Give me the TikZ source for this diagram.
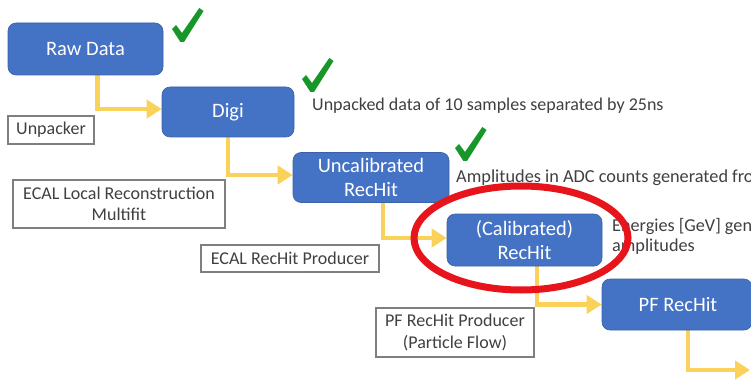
\documentclass[tikz,border=0pt]{standalone}
\usepackage{fontspec}
\setmainfont{Carlito}
\usetikzlibrary{arrows.meta,calc,backgrounds}
\definecolor{boxblue}{HTML}{4472C4}
\definecolor{flowyellow}{HTML}{FAD25A}
\definecolor{chkgreen}{HTML}{17972A}
\definecolor{ringred}{HTML}{E8141B}
\definecolor{labgray}{HTML}{404040}
\definecolor{framegray}{HTML}{7F7F7F}
\begin{document}
\begin{tikzpicture}[x=1pt,y=-1pt,
  stagebox/.style={draw=boxblue!85!black,line width=0.6pt,fill=boxblue,rounded corners=8pt,text=white,
    font=\fontsize{20.5}{23.5}\selectfont,align=center,inner sep=0pt},
  labbox/.style={draw=framegray,line width=1.2pt,fill=white,text=labgray,
    font=\fontsize{18}{21.5}\selectfont,align=center,inner sep=0pt},
  sidetext/.style={text=labgray,font=\fontsize{18}{21}\selectfont,align=left,inner sep=0pt,anchor=west},
  flow/.style={draw=flowyellow,line width=4.5pt,-{Triangle[length=15pt,width=18pt]}},
  chk/.pic={\fill[chkgreen] (0,21) -- (4,17) -- (10,25) -- (27.3,0) -- (31.5,3) -- (12,34) -- (8.4,34) -- cycle;}
]
\useasboundingbox (0,0) rectangle (751,390);

% stage boxes
\node[stagebox,minimum width=155pt,minimum height=52pt] (raw) at (85.5,49) {Raw Data};
\node[stagebox,minimum width=132pt,minimum height=50pt] (digi) at (228,112) {Digi};
\node[stagebox,minimum width=156pt,minimum height=50pt] (uncal) at (371,177.5) {Uncalibrated\\RecHit};
\node[stagebox,minimum width=155pt,minimum height=52pt] (cal) at (524.5,240) {(Calibrated)\\RecHit};
\node[stagebox,minimum width=150pt,minimum height=51pt] (pf) at (677,304.5) {};
\node[text=white,font=\fontsize{20.5}{23.5}\selectfont,inner sep=0pt] (pftext) at (678,304.5) {PF RecHit};
\coordinate (pfout) at (750,370);

% connectors (behind the boxes)
\begin{scope}[on background layer]
\fill[white] (0,0) rectangle (751,390);
\draw[flow] ([xshift=12pt]raw.south) |- ([yshift=3pt]digi.west);
\draw[flow] (digi.south) |- ([yshift=2.5pt]uncal.west);
\draw[flow] ([xshift=12pt]uncal.south) |- ([yshift=2pt]cal.west);
\draw[flow] ([xshift=12.5pt]cal.south) |- (pf.west);
\draw[flow] ([xshift=11pt]pf.south) |- (pfout);
\end{scope}

% label boxes
\node[labbox,minimum width=86pt,minimum height=28pt] (unp) at (51,130) {Unpacker};
\node[labbox,minimum width=212pt,minimum height=48pt] (ecallr) at (119,204) {ECAL Local Reconstruction\\Multifit};
\node[labbox,minimum width=178pt,minimum height=27pt] (ecalrh) at (290,258.5) {ECAL RecHit Producer};
\node[labbox,minimum width=158pt,minimum height=49pt] (pfrh) at (455,332.5) {PF RecHit Producer\\(Particle Flow)};

% side texts
\node[sidetext] (t1) at (312,106) {Unpacked data of 10 samples separated by 25ns};
\node[sidetext,font=\fontsize{18.3}{22}\selectfont] (t2) at (456,178) {Amplitudes in ADC counts generated fro};
\node[sidetext,font=\fontsize{18.2}{20}\selectfont] (t3) at (612,236.5) {Energies [GeV] gen\\amplitudes};

% red ring
\draw[ringred,line width=7pt] (521,238) ellipse [x radius=107pt,y radius=52pt];

% check marks
\pic at (172,8) {chk};
\pic at (302,58) {chk};
\pic at (455,127) {chk};
\end{tikzpicture}
\end{document}
